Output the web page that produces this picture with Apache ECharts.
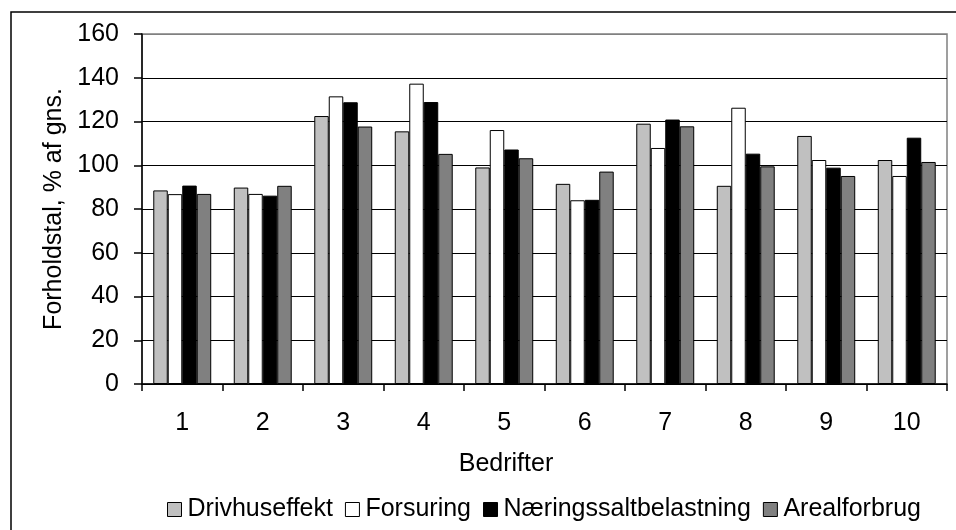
<!DOCTYPE html>
<html>
<head>
<meta charset="utf-8">
<script src="https://cdn.jsdelivr.net/npm/echarts@6/dist/echarts.min.js"></script>
<style>html,body{margin:0;padding:0;background:#fff;}#c{width:956px;height:530px;}</style>
</head>
<body>
<div id="c"></div>
<script>
const categories = ['1','2','3','4','5','6','7','8','9','10'];
const drivhuseffekt = [88.5, 89.8, 122.5, 115.5, 99, 91.5, 119, 90.6, 113.4, 102.4];
const forsuring = [86.8, 86.9, 131.5, 137.3, 116.1, 84, 107.9, 126.3, 102.4, 95.1];
const naeringssalt = [90.7, 86.1, 128.8, 128.9, 107.2, 84.2, 120.9, 105.3, 98.9, 112.6];
const arealforbrug = [86.9, 90.6, 117.7, 105.2, 103.2, 97.1, 117.8, 99.5, 95.1, 101.5];
const seriesNames = ['Drivhuseffekt', 'Forsuring', 'Næringssaltbelastning', 'Arealforbrug'];
const yTicks = [0, 20, 40, 60, 80, 100, 120, 140, 160];

const FONT = 'Liberation Sans, Arial, sans-serif';
const FS = 25;
const colors = ['#c0c0c0', '#ffffff', '#000000', '#808080'];
const dataSets = [drivhuseffekt, forsuring, naeringssalt, arealforbrug];

const chart = echarts.init(document.getElementById('c'), null, {renderer: 'canvas'});
chart.setOption({
  animation: false,
  backgroundColor: '#fff',
  textStyle: {fontFamily: FONT},
  grid: {left: 142, right: 9, top: 34, bottom: 146, show: true, borderColor: '#808080', borderWidth: 1.5, backgroundColor: 'transparent'},
  legend: {
    left: 167, top: 497, padding: 0,
    itemWidth: 14, itemHeight: 14, itemGap: 12,
    textStyle: {fontFamily: FONT, fontSize: FS, color: '#000', padding: [0,0,0,1]},
    icon: 'rect',
    data: seriesNames.map((n, i) => ({name: n, itemStyle: {color: colors[i], borderColor: '#000', borderWidth: 1}}))
  },
  xAxis: {
    type: 'category',
    data: categories,
    axisLine: {lineStyle: {color: '#000', width: 1.5}},
    axisTick: {show: true, length: 7, lineStyle: {color: '#000', width: 1.5}},
    axisLabel: {fontFamily: FONT, fontSize: FS, color: '#000', margin: 27}
  },
  yAxis: {
    type: 'value',
    min: 0, max: 160, interval: 20,
    axisLine: {show: true, lineStyle: {color: '#000', width: 1.5}},
    axisTick: {show: true, length: 8, lineStyle: {color: '#000', width: 1.5}},
    axisLabel: {fontFamily: FONT, fontSize: FS, color: '#000', margin: 23,
      formatter: v => yTicks.indexOf(v) >= 0 ? String(v) : ''},
    splitLine: {show: true, lineStyle: {color: ['#000','#000','#000','#000','#000','#000','#000','#000','#808080'], width: 1.2}},
    name: 'Forholdstal, % af gns.',
    nameLocation: 'middle',
    nameGap: 74,
    nameTextStyle: {fontFamily: FONT, fontSize: FS, color: '#000'}
  },
  graphic: [
    {type: 'rect', shape: {x: 11, y: 12, width: 1100, height: 700}, style: {fill: 'none', stroke: '#000', lineWidth: 1.5}, silent: true, z: -1},
    {type: 'text', style: {text: 'Bedrifter', x: 506, y: 464, align: 'center', verticalAlign: 'middle', font: FS + 'px ' + FONT, fill: '#000'}}
  ],
  series: dataSets.map((d, i) => ({
    name: seriesNames[i],
    type: 'bar',
    data: d,
    barGap: '0%',
    barCategoryGap: '28%',
    itemStyle: {color: colors[i], borderColor: '#000', borderWidth: 1}
  }))
});
</script>
</body>
</html>
